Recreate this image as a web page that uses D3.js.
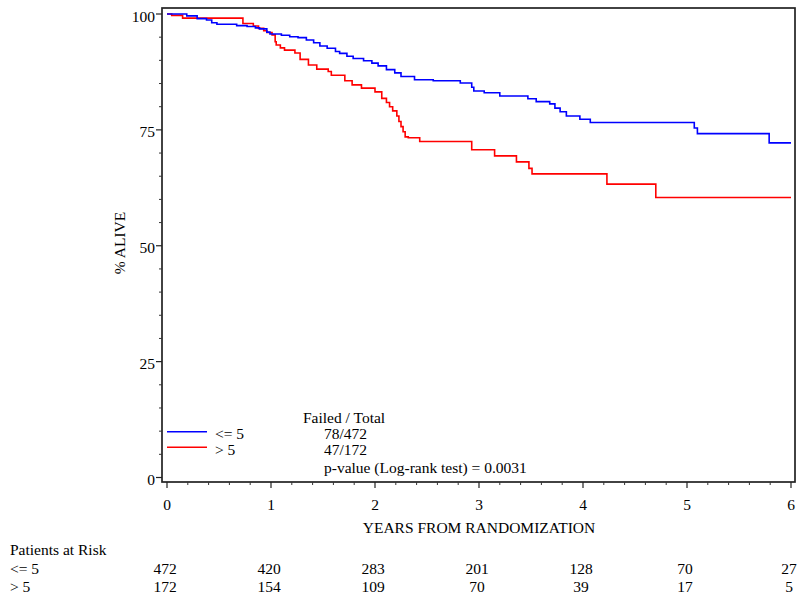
<!DOCTYPE html>
<html>
<head>
<meta charset="utf-8">
<script src="https://cdn.jsdelivr.net/npm/d3@7"></script>
<style>
  html, body { margin: 0; padding: 0; background: #fff; }
  svg { display: block; }
  text { font-family: "Liberation Serif", "Times New Roman", serif; fill: #000; }
</style>
</head>
<body>
<svg id="chart" width="800" height="596"></svg>
<script>
// ---- data ----
const groups = ["<= 5", "> 5"];
const groupColors = ["#0000ff", "#ff0000"];
const failedTotal = ["78/472", "47/172"];
const pValueText = "p-value (Log-rank test) = 0.0031";

const blueTimes = [0, 0.19, 0.29, 0.38, 0.43, 0.48, 0.67, 0.77, 0.85, 0.89, 0.96, 0.99, 1.10, 1.18, 1.26, 1.34, 1.41, 1.47, 1.54, 1.62, 1.66, 1.73, 1.79, 1.89, 1.97, 2.03, 2.11, 2.19, 2.25, 2.38, 2.56, 2.82, 2.93, 2.95, 3.05, 3.20, 3.47, 3.55, 3.68, 3.73, 3.78, 3.84, 3.97, 4.07, 5.07, 5.10, 5.79, 6.0];
const blueSurv  = [100, 99.6, 99.0, 98.7, 98.1, 97.8, 97.5, 97.3, 97.0, 96.8, 96.1, 95.7, 95.4, 95.1, 94.9, 94.4, 93.8, 93.1, 92.6, 91.9, 91.5, 90.9, 90.4, 89.9, 89.4, 88.8, 88.0, 87.3, 86.5, 85.8, 85.6, 85.1, 84.2, 83.4, 83.0, 82.3, 81.7, 81.1, 80.6, 79.7, 78.9, 78.0, 77.3, 76.6, 75.4, 74.2, 72.2, 72.2];

const redTimes = [0, 0.045, 0.15, 0.73, 0.83, 0.88, 0.93, 0.96, 1.01, 1.04, 1.05, 1.09, 1.13, 1.23, 1.28, 1.36, 1.44, 1.55, 1.58, 1.71, 1.78, 1.87, 2.0, 2.065, 2.11, 2.14, 2.17, 2.21, 2.23, 2.25, 2.27, 2.29, 2.32, 2.43, 2.93, 3.15, 3.36, 3.48, 3.51, 4.23, 4.70, 6.0];
const redSurv  = [100, 99.7, 99.1, 97.95, 97.4, 96.9, 96.4, 96.0, 95.5, 94.0, 93.3, 92.7, 92.2, 91.6, 90.2, 89.0, 88.1, 87.6, 86.8, 85.6, 84.7, 84.0, 83.2, 81.8, 80.9, 80.0, 79.1, 78.0, 76.8, 75.7, 74.6, 73.5, 73.3, 72.5, 70.7, 69.4, 68.1, 66.7, 65.5, 63.3, 60.4, 60.4];

const xTicks = [0, 1, 2, 3, 4, 5, 6];
const yTicks = [0, 25, 50, 75, 100];
const riskTimes = [0, 1, 2, 3, 4, 5, 6];
const riskLow  = [472, 420, 283, 201, 128, 70, 27];
const riskHigh = [172, 154, 109, 70, 39, 17, 5];

// ---- layout ----
const svg = d3.select("#chart");
const frame = {left: 162, right: 795, top: 8, bottom: 482};
const x = d3.scaleLinear().domain([0, 6]).range([167, 791]);
const y = d3.scaleLinear().domain([0, 100]).range([477.5, 14]);
const fontSize = 15.5;

// frame
svg.append("rect")
  .attr("x", frame.left).attr("y", frame.top)
  .attr("width", frame.right - frame.left).attr("height", frame.bottom - frame.top)
  .attr("fill", "none").attr("stroke", "#222").attr("stroke-width", 1.7);

// y axis ticks
const yMinor = d3.range(0, 101, 5).filter(v => v % 25 !== 0);
svg.append("g").selectAll("line").data(yMinor).join("line")
  .attr("x1", frame.left - 3).attr("x2", frame.left)
  .attr("y1", d => y(d)).attr("y2", d => y(d))
  .attr("stroke", "#333").attr("stroke-width", 1);
svg.append("g").selectAll("line").data(yTicks).join("line")
  .attr("x1", frame.left - 6).attr("x2", frame.left)
  .attr("y1", d => y(d)).attr("y2", d => y(d))
  .attr("stroke", "#222").attr("stroke-width", 1.2);
svg.append("g").selectAll("text").data(yTicks).join("text")
  .attr("x", 155).attr("y", d => y(d) + 7.5)
  .attr("text-anchor", "end").attr("font-size", fontSize)
  .text(d => d);

// x axis ticks
const xMinor = d3.range(0, 30).map(i => i * 0.2).filter(v => Math.abs(v - Math.round(v)) > 1e-6);
svg.append("g").selectAll("line").data(xMinor).join("line")
  .attr("x1", d => x(d)).attr("x2", d => x(d))
  .attr("y1", frame.bottom).attr("y2", frame.bottom + 3)
  .attr("stroke", "#333").attr("stroke-width", 1);
svg.append("g").selectAll("line").data(xTicks).join("line")
  .attr("x1", d => x(d)).attr("x2", d => x(d))
  .attr("y1", frame.bottom).attr("y2", frame.bottom + 6)
  .attr("stroke", "#222").attr("stroke-width", 1.2);
svg.append("g").selectAll("text").data(xTicks).join("text")
  .attr("x", d => x(d)).attr("y", 510)
  .attr("text-anchor", "middle").attr("font-size", fontSize)
  .text(d => d);

// axis titles
svg.append("text")
  .attr("x", x(3)).attr("y", 533)
  .attr("text-anchor", "middle").attr("font-size", fontSize)
  .text("YEARS FROM RANDOMIZATION");
svg.append("text")
  .attr("transform", "translate(125,243) rotate(-90)")
  .attr("text-anchor", "middle").attr("font-size", fontSize)
  .text("% ALIVE");

// curves
const line = d3.line().x(d => x(d[0])).y(d => y(d[1])).curve(d3.curveStepAfter);
const series = [
  d3.zip(blueTimes, blueSurv),
  d3.zip(redTimes, redSurv)
];
svg.append("path").datum(series[1]).attr("d", line)
  .attr("fill", "none").attr("stroke", groupColors[1]).attr("stroke-width", 1.6);
svg.append("path").datum(series[0]).attr("d", line)
  .attr("fill", "none").attr("stroke", groupColors[0]).attr("stroke-width", 1.6);

// legend
const legY = [431.7, 447.3];
groups.forEach((g, i) => {
  svg.append("line")
    .attr("x1", x(0)).attr("x2", x(0) + 40)
    .attr("y1", legY[i]).attr("y2", legY[i])
    .attr("stroke", groupColors[i]).attr("stroke-width", 1.6);
  svg.append("text")
    .attr("x", 215).attr("y", legY[i] + 7.5)
    .attr("font-size", fontSize).text(g);
  svg.append("text")
    .attr("x", 324).attr("y", legY[i] + 7.5)
    .attr("font-size", fontSize).text(failedTotal[i]);
});
svg.append("text").attr("x", 303).attr("y", 422.5)
  .attr("font-size", fontSize).text("Failed / Total");
svg.append("text").attr("x", 324).attr("y", 472.5)
  .attr("font-size", fontSize).text(pValueText);

// risk table
svg.append("text").attr("x", 10).attr("y", 555)
  .attr("font-size", fontSize).text("Patients at Risk");
const riskRows = [riskLow, riskHigh];
const riskY = [574, 592];
riskRows.forEach((row, i) => {
  svg.append("text").attr("x", 10).attr("y", riskY[i])
    .attr("font-size", fontSize).text(groups[i]);
  svg.append("g").selectAll("text").data(d3.zip(riskTimes, row)).join("text")
    .attr("x", d => x(d[0]) - 2).attr("y", riskY[i])
    .attr("text-anchor", "middle").attr("font-size", fontSize)
    .text(d => d[1]);
});
</script>
</body>
</html>
